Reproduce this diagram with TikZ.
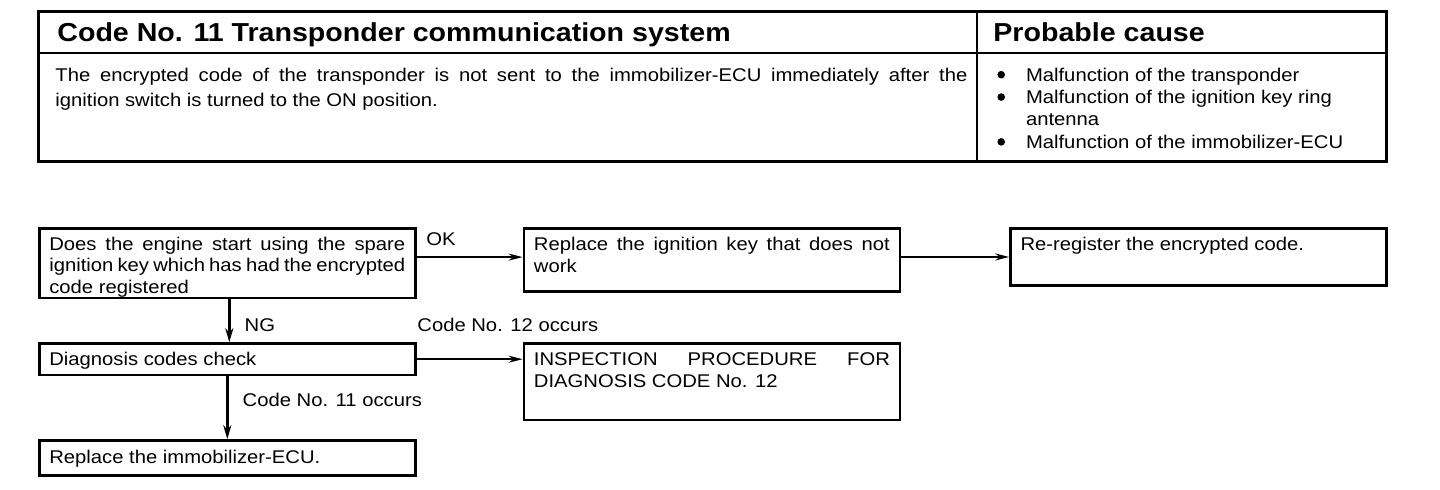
\documentclass[tikz,border=0pt]{standalone}
\usepackage{fontspec}
\setmainfont[FakeStretch=1.1]{Liberation Sans}
\usetikzlibrary{positioning,arrows.meta}

\tikzset{
  stepbox/.style={draw, line width=1.3pt, anchor=north west, inner xsep=5pt, inner ysep=2.5pt,
    font=\fontsize{9.2}{11}\selectfont},
  flow/.style={line width=0.8pt, -{Stealth[length=7pt,width=3.5pt]}},
  downflow/.style={line width=1.4pt, -{Stealth[length=7pt,width=4pt]}},
  lbl/.style={font=\fontsize{9.2}{11}\selectfont, inner sep=0pt},
  tabfont/.style={font=\fontsize{9.2}{12.5}\selectfont, inner sep=0pt},
  headfont/.style={font=\fontsize{13}{15}\selectfont\bfseries, inner sep=0pt},
}
\newcommand{\boxtext}[2]{\parbox[c][#1][t]{178pt}{\rule{0pt}{8.7pt}#2}}
\newcommand{\bigdot}{\tikz[baseline=-3.2pt]\fill (0,0) circle (1.9pt);}

\begin{document}
\begin{tikzpicture}[x=1pt, y=1pt]
\useasboundingbox (0,0) rectangle (720,-245);

\draw[line width=1.5pt] (19,-6) rectangle (693,-81);
\draw[line width=1pt] (19,-26.5) -- (693,-26.5);
\draw[line width=0.8pt] (488.5,-6) -- (488.5,-81);

\node[headfont, anchor=base west] (title) at (28.5,-21) {Code No. 11 Transponder communication system};
\node[headfont, anchor=base west] (causehead) at (496.5,-21) {Probable cause};
\node[tabfont, anchor=north west, text width=456pt, align=justify] (symptom) at (27.5,-34)
  {The encrypted code of the transponder is not sent to the immobilizer-ECU immediately after the\linebreak
   ignition switch is turned to the ON position.};
\node[tabfont, anchor=north west] (causes) at (498.5,-32.5) {%
  \fontsize{9.2}{11.2}\selectfont
  \begin{tabular}{@{}l@{\hspace{10.5pt}}l@{}}
  \bigdot & Malfunction of the transponder\\
  \bigdot & Malfunction of the ignition key ring\\
          & antenna\\
  \bigdot & Malfunction of the immobilizer-ECU
  \end{tabular}};

\node[stepbox, font=\fontsize{9.2}{10.6}\selectfont] (start) at (19,-113.5)
  {\boxtext{29.8pt}{Does the engine start using the spare\linebreak ignition key which has had the encrypted\linebreak code registered}};
\node[stepbox, right=53pt of start.north east, anchor=north west] (newkey)
  {\boxtext{26.7pt}{Replace the ignition key that does not\linebreak work}};
\node[stepbox, right=54pt of newkey.north east, anchor=north west] (reregister)
  {\boxtext{23.7pt}{Re-register the encrypted code.}};
\node[stepbox, below=21.5pt of start.south west, anchor=north west] (diag)
  {\boxtext{10.7pt}{Diagnosis codes check}};
\node[stepbox, right=53pt of diag.north east, anchor=north west] (inspect)
  {\boxtext{33.2pt}{INSPECTION PROCEDURE FOR\linebreak DIAGNOSIS CODE No. 12}};
\node[stepbox, inner ysep=3pt, below=31.5pt of diag.south west, anchor=north west] (ecu)
  {\boxtext{11.5pt}{Replace the immobilizer-ECU.}};

\draw[flow] ([yshift=3pt]start.east) -- ([yshift=3pt]start.east -| newkey.west)
  node[lbl, pos=0, anchor=south west, xshift=4.5pt, yshift=5.5pt] {OK};
\draw[flow] ([yshift=1.5pt]newkey.east) -- ([yshift=1.5pt]newkey.east -| reregister.west);
\draw[downflow] ([xshift=1pt]start.south) -- ([xshift=1pt]diag.north)
  node[lbl, pos=0.6, right, xshift=7pt] {NG};
\draw[flow] (diag.east) -- (diag.east -| inspect.west)
  node[lbl, pos=0, anchor=south west, yshift=13.5pt] {Code No. 12 occurs};
\draw[downflow] (diag.south) -- (ecu.north)
  node[lbl, pos=0.37, right, xshift=7pt] {Code No. 11 occurs};
\end{tikzpicture}
\end{document}
